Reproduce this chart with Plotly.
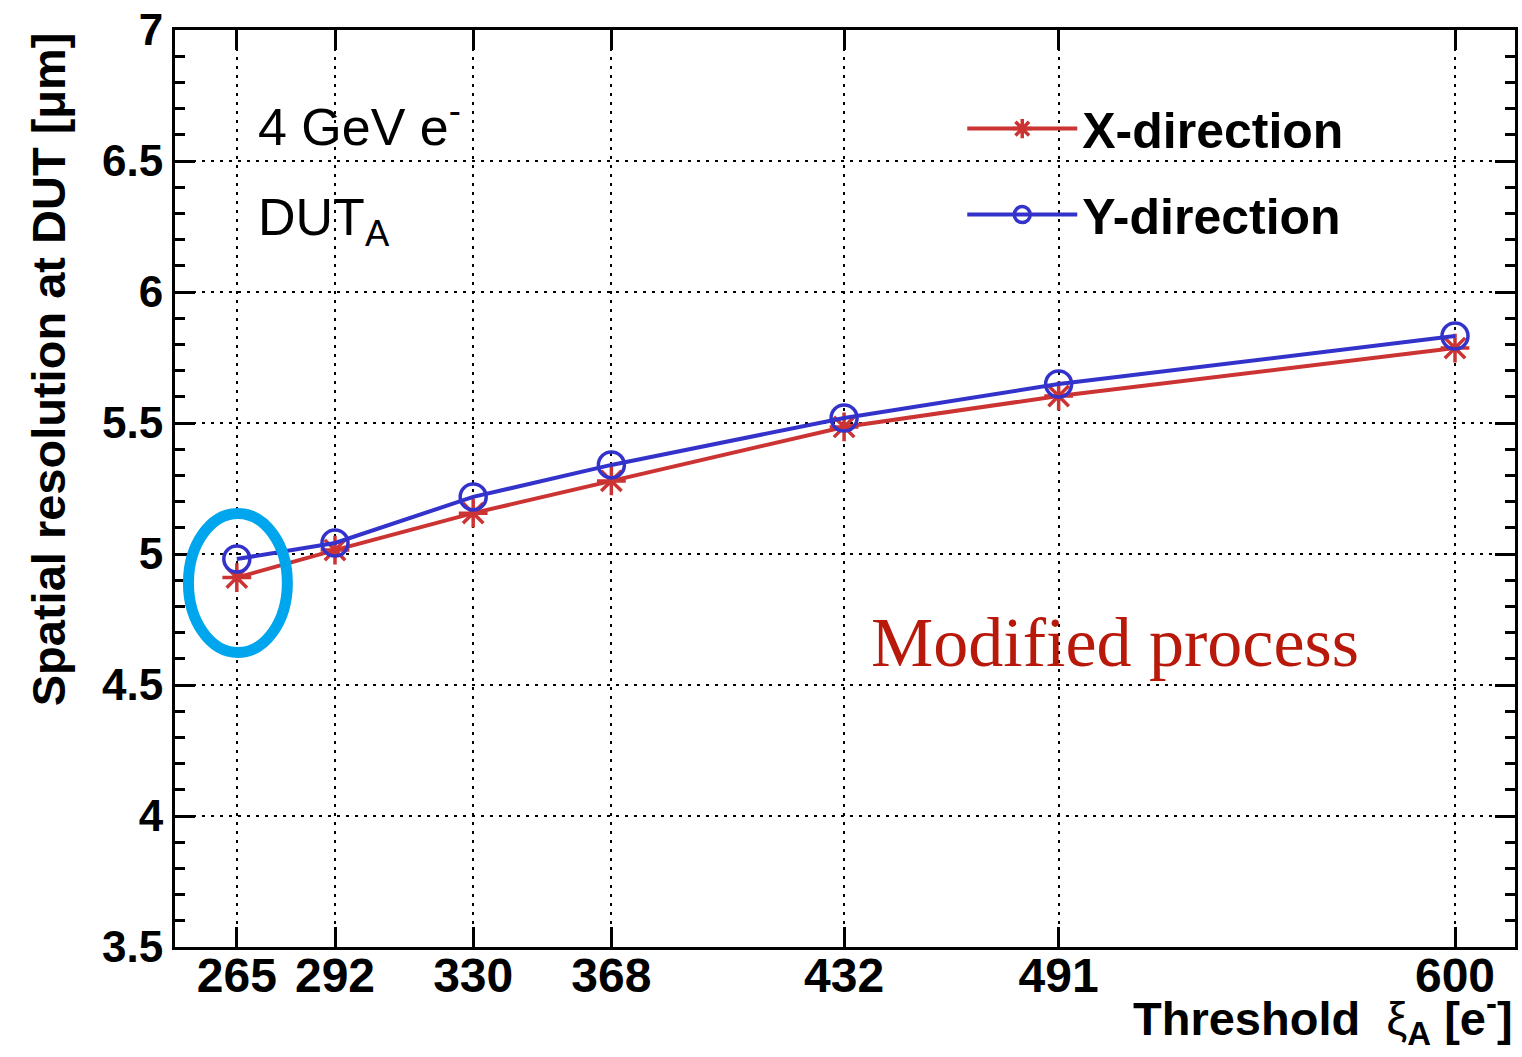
import plotly.graph_objects as go

thresholds = [265, 292, 330, 368, 432, 491, 600]
res_x = [4.91, 5.015, 5.156, 5.279, 5.485, 5.603, 5.786]
res_y = [4.981, 5.042, 5.218, 5.340, 5.519, 5.649, 5.832]
y_ticks = [3.5, 4, 4.5, 5, 5.5, 6, 6.5, 7]
x_range = [248, 616.5]
y_range = [3.5, 7]

RED = "rgb(204,51,51)"
BLUE = "rgb(51,51,204)"
FONT = "Liberation Sans, Arial, Helvetica, sans-serif"

fig = go.Figure()
fig.add_trace(go.Scatter(
    x=thresholds, y=res_x, mode="lines+markers", name="<b>X-direction</b>",
    line=dict(color=RED, width=4), legendgroup="x",
    marker=dict(symbol="asterisk-open", size=24, line=dict(color=RED, width=3.5), color=RED),
))
fig.add_trace(go.Scatter(
    x=thresholds, y=res_y, mode="lines+markers", name="<b>Y-direction</b>",
    line=dict(color=BLUE, width=4), legendgroup="y",
    marker=dict(symbol="circle-open", size=26, line=dict(color=BLUE, width=3.5), color=BLUE),
))

# highlight ellipse around the first point
fig.add_shape(type="circle", xref="x", yref="y", x0=251.7, x1=278.9, y0=4.624, y1=5.155,
              line=dict(color="rgb(0,166,237)", width=11))

axis_common = dict(
    showline=True, linecolor="black", linewidth=3, mirror="allticks",
    ticks="inside", ticklen=20, tickwidth=2.5, tickcolor="black",
    showgrid=True, gridcolor="black", gridwidth=2, griddash="3px,6px",
    zeroline=False,
)

fig.update_xaxes(range=x_range, tickvals=thresholds,
                 tickfont=dict(family=FONT, size=48, color="black", weight="bold"),
                 ticklabelstandoff=-16,
                 **axis_common)
fig.update_yaxes(range=y_range, tickvals=y_ticks,
                 tickfont=dict(family=FONT, size=44, color="black", weight="bold"),
                 minor=dict(ticks="inside", ticklen=10, tickwidth=2.5, tickcolor="black",
                            dtick=0.1, tick0=3.5, showgrid=False),
                 **axis_common)

annotations = [
    dict(text="<b>Spatial resolution at DUT [μm]</b>", xref="paper", yref="paper",
         x=-0.0946, y=1.0, xanchor="center", yanchor="top", textangle=-90,
         showarrow=False, font=dict(family=FONT, size=47, color="black")),
    dict(text="<b>Threshold</b>  ξ<b><sub>A</sub> [e<sup>-</sup>]</b>", xref="paper", yref="paper",
         x=1.0, y=-0.039, xanchor="right", yanchor="top",
         showarrow=False, font=dict(family=FONT, size=47, color="black")),
    dict(text="4 GeV e<sup>-</sup>", xref="paper", yref="paper",
         x=0.0605, y=0.899, xanchor="left", yanchor="middle",
         showarrow=False, font=dict(family=FONT, size=52, color="black")),
    dict(text="DUT<sub>A</sub>", xref="paper", yref="paper",
         x=0.0605, y=0.792, xanchor="left", yanchor="middle",
         showarrow=False, font=dict(family=FONT, size=52, color="black")),
    dict(text="Modified process", xref="paper", yref="paper",
         x=0.518, y=0.332, xanchor="left", yanchor="middle",
         showarrow=False, font=dict(family="Liberation Serif, Times New Roman, serif", size=70,
                                    color="rgb(185,25,10)")),
]

fig.update_layout(
    width=1522, height=1057,
    margin=dict(l=175, r=4, t=30, b=110),
    paper_bgcolor="white", plot_bgcolor="white",
    showlegend=True,
    legend=dict(x=0.5875, y=0.935, xanchor="left", yanchor="top",
                font=dict(family=FONT, size=50, color="black"),
                bgcolor="rgba(0,0,0,0)", borderwidth=0, tracegroupgap=18,
                itemwidth=110),
    annotations=annotations,
)

fig.write_html("out.html")
